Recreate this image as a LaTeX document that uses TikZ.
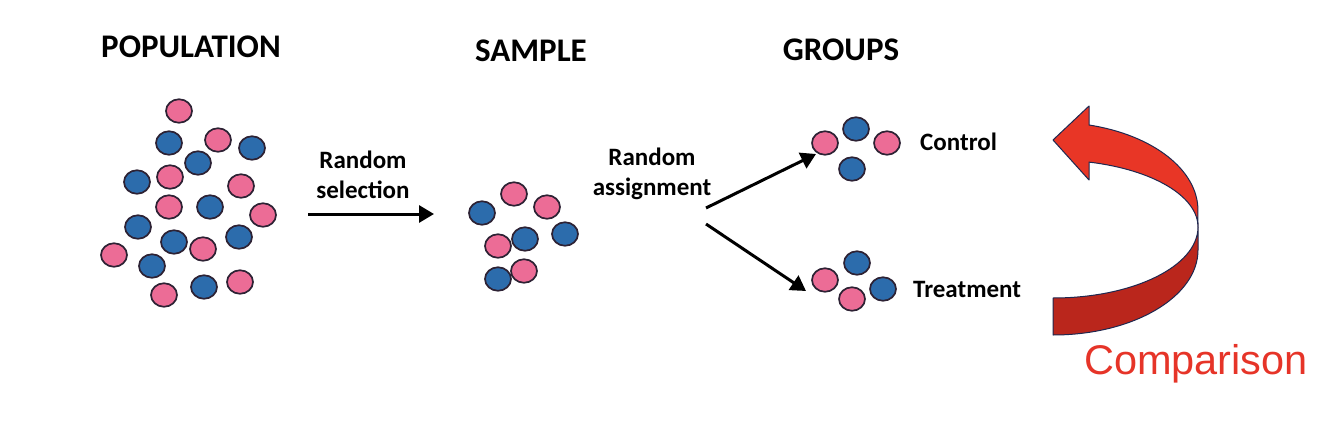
\documentclass[tikz,border=0pt]{standalone}
\usepackage{fontspec}
\setmainfont{Carlito}
\newfontfamily\cmpfont{Liberation Sans}
\usetikzlibrary{shapes.geometric,arrows.meta}
\definecolor{dotpink}{RGB}{236,108,150}
\definecolor{dotblue}{RGB}{44,108,172}
\definecolor{dotline}{RGB}{45,34,52}
\definecolor{arrred}{RGB}{232,54,38}
\definecolor{arrdark}{RGB}{186,38,28}
\definecolor{arrline}{RGB}{30,40,80}
\definecolor{cmpred}{RGB}{230,52,40}
\tikzset{
  dot/.style={ellipse, draw=dotline, line width=1.7pt, minimum width=26pt, minimum height=23.5pt, inner sep=0pt},
  pd/.style={dot, fill=dotpink},
  bd/.style={dot, fill=dotblue},
  title/.style={font=\fontsize{33}{40}\selectfont\bfseries, anchor=base, inner sep=0pt},
  lbl/.style={font=\fontsize{25}{30}\selectfont\bfseries, align=center, inner sep=0pt},
  grp/.style={font=\fontsize{25}{30}\selectfont\bfseries, anchor=base west, inner sep=0pt},
  conn/.style={line width=3pt, -{Triangle[length=15pt,width=17pt]}},
  ribbon/.style={draw=arrline, line width=1pt, line join=round}
}
\begin{document}
\begin{tikzpicture}[x=1pt,y=-1pt]
\useasboundingbox (0,0) rectangle (1320,444);
% titles
\node[title] (tpop) at (191,58) {POPULATION};
\node[title] (tsam) at (531,62) {SAMPLE};
\node[title] (tgrp) at (841,60) {GROUPS};
% population
\node[pd] (a1) at (179,111) {};
\node[bd] (a2) at (169,143) {};
\node[pd] (a3) at (218,140) {};
\node[bd] (a4) at (252,148) {};
\node[bd] (a5) at (198,163) {};
\node[bd] (a6) at (137,182) {};
\node[pd] (a7) at (170,177) {};
\node[pd] (a8) at (241,186) {};
\node[pd] (a9) at (169,207) {};
\node[bd] (a10) at (210,207) {};
\node[pd] (a11) at (263,215) {};
\node[bd] (a12) at (138,227) {};
\node[bd] (a13) at (174,242) {};
\node[pd] (a14) at (203,249) {};
\node[bd] (a15) at (239,237) {};
\node[pd] (a16) at (114,255) {};
\node[bd] (a17) at (152,266) {};
\node[pd] (a18) at (164,295) {};
\node[bd] (a19) at (204,287) {};
\node[pd] (a20) at (240,282) {};
% sample
\node[bd] (s1) at (482,213) {};
\node[pd] (s2) at (514,194) {};
\node[pd] (s3) at (547,207) {};
\node[pd] (s4) at (498,246) {};
\node[bd] (s5) at (525,239) {};
\node[bd] (s6) at (565,234) {};
\node[bd] (s7) at (498,279) {};
\node[pd] (s8) at (524,271) {};
% control group
\node[pd] (c1) at (825,143) {};
\node[bd] (c2) at (856,129) {};
\node[pd] (c3) at (887,143) {};
\node[bd] (c4) at (852,169) {};
\node[grp] (ctl) at (920,150) {Control};
% treatment group
\node[pd] (t1) at (825,280) {};
\node[bd] (t2) at (857,263) {};
\node[bd] (t3) at (883,289) {};
\node[pd] (t4) at (852,299) {};
\node[grp] (trt) at (913,297) {Treatment};
% labels
\node[lbl] (lsel) at (363,175) {Random\\selection};
\node[lbl] (lasg) at (652,174) {Random\\assignment};
% connectors
\coordinate (sA) at (308,214);
\coordinate (sB) at (434,214);
\draw[conn] (sA) -- (sB);
\coordinate (aA) at (706,208);
\coordinate (aB) at (816,154);
\draw[conn] (aA) -- (aB);
\coordinate (bA) at (706,224);
\coordinate (bB) at (806,291);
\draw[conn] (bA) -- (bB);
% comparison ribbon arrow
\fill[arrdark] (1198,227) -- (1198,250)
  arc[start angle=0, end angle=-90, x radius=145pt, y radius=85pt]
  -- (1053,298)
  arc[start angle=-90, end angle=0, x radius=145pt, y radius=71pt] -- cycle;
\draw[ribbon] (1198,227) -- (1198,250)
  arc[start angle=0, end angle=-90, x radius=145pt, y radius=85pt]
  -- (1053,298)
  arc[start angle=-90, end angle=0, x radius=145pt, y radius=71pt];
\filldraw[ribbon, fill=arrred] (1089,125)
  arc[start angle=75.6, end angle=0, x radius=145pt, y radius=88pt]
  -- (1198,227)
  arc[start angle=0, end angle=75.6, x radius=145pt, y radius=67pt]
  -- (1089,180) -- (1053,140) -- (1089,106) -- cycle;
\node[font=\cmpfont\fontsize{41.5}{48}\selectfont, text=cmpred, inner sep=0pt] (cmp) at (1196,364) {Comparison};
\end{tikzpicture}
\end{document}
